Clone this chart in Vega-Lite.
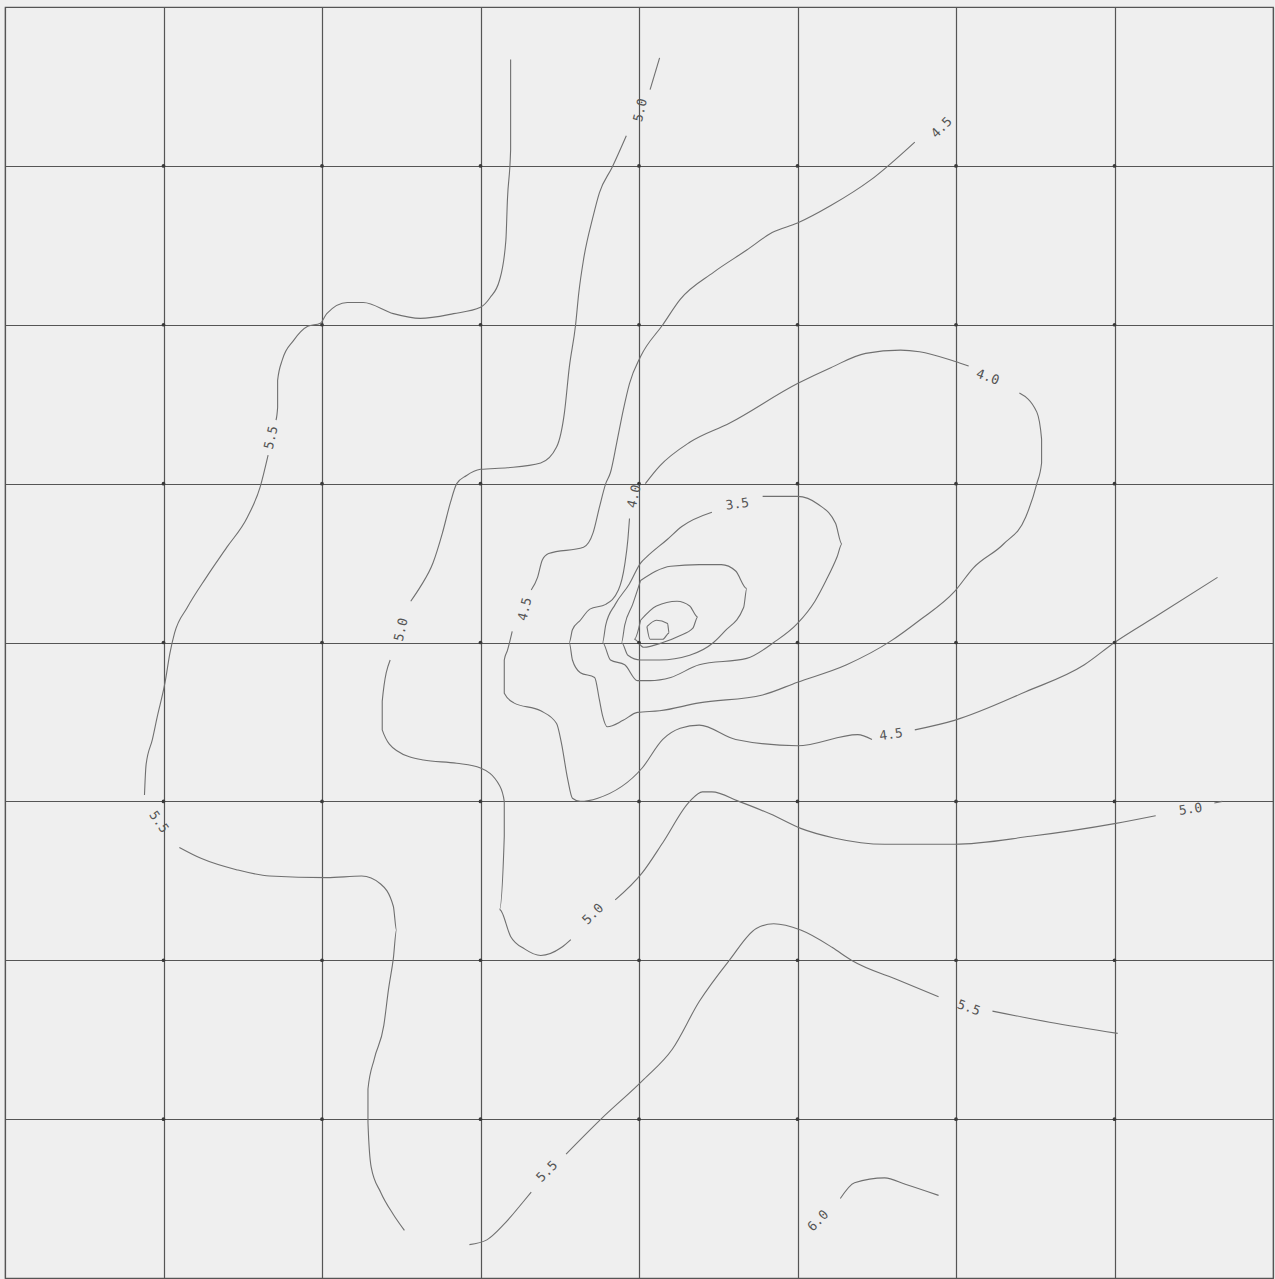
{
  "$schema": "https://vega.github.io/schema/vega-lite/v6.json",
  "width": 1268,
  "height": 1271,
  "autosize": {"type": "none"},
  "padding": {"left": 5, "top": 7, "right": 2, "bottom": 1},
  "background": "#efefef",
  "config": {
    "view": {"stroke": "#5a5a5a", "strokeWidth": 1.2, "fill": "#efefef"},
    "axis": {"labels": false, "ticks": false, "domain": false, "title": null, "grid": true, "gridColor": "#555555", "gridWidth": 1.2, "gridOpacity": 1}
  },
  "datasets": {
    "nodes": [
      {"x":1,"y":1},{"x":2,"y":1},{"x":3,"y":1},{"x":4,"y":1},{"x":5,"y":1},{"x":6,"y":1},{"x":7,"y":1},
      {"x":1,"y":2},{"x":2,"y":2},{"x":3,"y":2},{"x":4,"y":2},{"x":5,"y":2},{"x":6,"y":2},{"x":7,"y":2},
      {"x":1,"y":3},{"x":2,"y":3},{"x":3,"y":3},{"x":4,"y":3},{"x":5,"y":3},{"x":6,"y":3},{"x":7,"y":3},
      {"x":1,"y":4},{"x":2,"y":4},{"x":3,"y":4},{"x":4,"y":4},{"x":5,"y":4},{"x":6,"y":4},{"x":7,"y":4},
      {"x":1,"y":5},{"x":2,"y":5},{"x":3,"y":5},{"x":4,"y":5},{"x":5,"y":5},{"x":6,"y":5},{"x":7,"y":5},
      {"x":1,"y":6},{"x":2,"y":6},{"x":3,"y":6},{"x":4,"y":6},{"x":5,"y":6},{"x":6,"y":6},{"x":7,"y":6},
      {"x":1,"y":7},{"x":2,"y":7},{"x":3,"y":7},{"x":4,"y":7},{"x":5,"y":7},{"x":6,"y":7},{"x":7,"y":7}
    ],
    "contours": [
      {"s":"a1","i":1,"x":3.19,"y":0.33},{"s":"a1","i":2,"x":3.19,"y":0.59},{"s":"a1","i":3,"x":3.19,"y":0.90},{"s":"a1","i":4,"x":3.17,"y":1.21},{"s":"a1","i":5,"x":3.16,"y":1.47},{"s":"a1","i":6,"x":3.12,"y":1.72},{"s":"a1","i":7,"x":3.06,"y":1.83},{"s":"a1","i":8,"x":3.00,"y":1.89},{"s":"a1","i":9,"x":2.83,"y":1.93},{"s":"a1","i":10,"x":2.62,"y":1.96},{"s":"a1","i":11,"x":2.45,"y":1.93},{"s":"a1","i":12,"x":2.26,"y":1.86},{"s":"a1","i":13,"x":2.16,"y":1.86},{"s":"a1","i":14,"x":2.03,"y":1.93},{"s":"a1","i":15,"x":1.99,"y":1.99},{"s":"a1","i":16,"x":1.91,"y":2.01},{"s":"a1","i":17,"x":1.82,"y":2.10},{"s":"a1","i":18,"x":1.75,"y":2.22},{"s":"a1","i":19,"x":1.72,"y":2.35},{"s":"a1","i":20,"x":1.72,"y":2.52},{"s":"a1","i":21,"x":1.71,"y":2.60},
      {"s":"a2","i":1,"x":1.66,"y":2.82},{"s":"a2","i":2,"x":1.61,"y":3.02},{"s":"a2","i":3,"x":1.53,"y":3.21},{"s":"a2","i":4,"x":1.40,"y":3.40},{"s":"a2","i":5,"x":1.27,"y":3.59},{"s":"a2","i":6,"x":1.15,"y":3.78},{"s":"a2","i":7,"x":1.07,"y":3.94},{"s":"a2","i":8,"x":1.04,"y":4.07},{"s":"a2","i":9,"x":1.01,"y":4.25},{"s":"a2","i":10,"x":0.96,"y":4.47},{"s":"a2","i":11,"x":0.93,"y":4.61},{"s":"a2","i":12,"x":0.89,"y":4.77},{"s":"a2","i":13,"x":0.88,"y":4.96},
      {"s":"a3","i":1,"x":1.10,"y":5.29},{"s":"a3","i":2,"x":1.24,"y":5.36},{"s":"a3","i":3,"x":1.46,"y":5.43},{"s":"a3","i":4,"x":1.67,"y":5.47},{"s":"a3","i":5,"x":2.03,"y":5.48},{"s":"a3","i":6,"x":2.25,"y":5.47},{"s":"a3","i":7,"x":2.37,"y":5.52},{"s":"a3","i":8,"x":2.45,"y":5.66},{"s":"a3","i":9,"x":2.47,"y":5.81},{"s":"a3","i":10,"x":2.45,"y":5.99},{"s":"a3","i":11,"x":2.42,"y":6.18},{"s":"a3","i":12,"x":2.39,"y":6.41},{"s":"a3","i":13,"x":2.33,"y":6.62},{"s":"a3","i":14,"x":2.29,"y":6.81},{"s":"a3","i":15,"x":2.29,"y":7.02},{"s":"a3","i":16,"x":2.31,"y":7.30},{"s":"a3","i":17,"x":2.37,"y":7.46},{"s":"a3","i":18,"x":2.45,"y":7.60},{"s":"a3","i":19,"x":2.52,"y":7.70},
      {"s":"b1","i":1,"x":4.13,"y":0.32},{"s":"b1","i":2,"x":4.07,"y":0.52},
      {"s":"b2","i":1,"x":3.92,"y":0.81},{"s":"b2","i":2,"x":3.83,"y":1.01},{"s":"b2","i":3,"x":3.75,"y":1.17},{"s":"b2","i":4,"x":3.71,"y":1.32},{"s":"b2","i":5,"x":3.65,"y":1.59},{"s":"b2","i":6,"x":3.62,"y":1.80},{"s":"b2","i":7,"x":3.60,"y":2.00},{"s":"b2","i":8,"x":3.56,"y":2.27},{"s":"b2","i":9,"x":3.53,"y":2.55},{"s":"b2","i":10,"x":3.48,"y":2.77},{"s":"b2","i":11,"x":3.38,"y":2.87},{"s":"b2","i":12,"x":3.17,"y":2.90},{"s":"b2","i":13,"x":3.00,"y":2.91},{"s":"b2","i":14,"x":2.91,"y":2.95},{"s":"b2","i":15,"x":2.85,"y":3.00},{"s":"b2","i":16,"x":2.81,"y":3.12},{"s":"b2","i":17,"x":2.76,"y":3.31},{"s":"b2","i":18,"x":2.70,"y":3.50},{"s":"b2","i":19,"x":2.62,"y":3.65},{"s":"b2","i":20,"x":2.56,"y":3.74},
      {"s":"b3","i":1,"x":2.43,"y":4.11},{"s":"b3","i":2,"x":2.38,"y":4.37},{"s":"b3","i":3,"x":2.38,"y":4.55},{"s":"b3","i":4,"x":2.47,"y":4.68},{"s":"b3","i":5,"x":2.64,"y":4.74},{"s":"b3","i":6,"x":2.85,"y":4.76},{"s":"b3","i":7,"x":3.00,"y":4.79},{"s":"b3","i":8,"x":3.12,"y":4.90},{"s":"b3","i":9,"x":3.15,"y":5.00},{"s":"b3","i":10,"x":3.15,"y":5.22},{"s":"b3","i":11,"x":3.12,"y":5.68},{"s":"b3","i":12,"x":3.19,"y":5.85},{"s":"b3","i":13,"x":3.28,"y":5.93},{"s":"b3","i":14,"x":3.38,"y":5.97},{"s":"b3","i":15,"x":3.51,"y":5.92},{"s":"b3","i":16,"x":3.57,"y":5.87},
      {"s":"b4","i":1,"x":3.85,"y":5.62},{"s":"b4","i":2,"x":4.02,"y":5.45},{"s":"b4","i":3,"x":4.15,"y":5.26},{"s":"b4","i":4,"x":4.32,"y":5.00},{"s":"b4","i":5,"x":4.40,"y":4.94},{"s":"b4","i":6,"x":4.46,"y":4.94},{"s":"b4","i":7,"x":4.63,"y":5.00},{"s":"b4","i":8,"x":4.83,"y":5.08},{"s":"b4","i":9,"x":5.02,"y":5.17},{"s":"b4","i":10,"x":5.23,"y":5.23},{"s":"b4","i":11,"x":5.55,"y":5.27},{"s":"b4","i":12,"x":5.99,"y":5.27},{"s":"b4","i":13,"x":6.47,"y":5.22},{"s":"b4","i":14,"x":7.00,"y":5.14},{"s":"b4","i":15,"x":7.26,"y":5.09},
      {"s":"b5","i":1,"x":7.63,"y":5.01},{"s":"b5","i":2,"x":7.68,"y":5.00},
      {"s":"c1","i":1,"x":5.74,"y":0.85},{"s":"c1","i":2,"x":5.46,"y":1.09},{"s":"c1","i":3,"x":5.21,"y":1.25},{"s":"c1","i":4,"x":5.00,"y":1.36},{"s":"c1","i":5,"x":4.84,"y":1.42},{"s":"c1","i":6,"x":4.68,"y":1.53},{"s":"c1","i":7,"x":4.47,"y":1.67},{"s":"c1","i":8,"x":4.26,"y":1.84},{"s":"c1","i":9,"x":4.15,"y":2.00},{"s":"c1","i":10,"x":4.01,"y":2.20},{"s":"c1","i":11,"x":3.94,"y":2.37},{"s":"c1","i":12,"x":3.90,"y":2.54},{"s":"c1","i":13,"x":3.86,"y":2.74},{"s":"c1","i":14,"x":3.82,"y":2.93},{"s":"c1","i":15,"x":3.79,"y":3.00},{"s":"c1","i":16,"x":3.75,"y":3.15},{"s":"c1","i":17,"x":3.71,"y":3.31},{"s":"c1","i":18,"x":3.65,"y":3.40},{"s":"c1","i":19,"x":3.43,"y":3.44},{"s":"c1","i":20,"x":3.39,"y":3.48},{"s":"c1","i":21,"x":3.36,"y":3.59},{"s":"c1","i":22,"x":3.32,"y":3.67},
      {"s":"c2","i":1,"x":3.20,"y":3.93},{"s":"c2","i":2,"x":3.17,"y":4.05},{"s":"c2","i":3,"x":3.15,"y":4.11},{"s":"c2","i":4,"x":3.15,"y":4.32},{"s":"c2","i":5,"x":3.21,"y":4.38},{"s":"c2","i":6,"x":3.38,"y":4.43},{"s":"c2","i":7,"x":3.48,"y":4.51},{"s":"c2","i":8,"x":3.51,"y":4.63},{"s":"c2","i":9,"x":3.55,"y":4.86},{"s":"c2","i":10,"x":3.58,"y":4.98},{"s":"c2","i":11,"x":3.63,"y":5.00},{"s":"c2","i":12,"x":3.74,"y":4.98},{"s":"c2","i":13,"x":4.02,"y":4.79},{"s":"c2","i":14,"x":4.15,"y":4.61},{"s":"c2","i":15,"x":4.26,"y":4.54},{"s":"c2","i":16,"x":4.38,"y":4.52},{"s":"c2","i":17,"x":4.61,"y":4.61},{"s":"c2","i":18,"x":5.00,"y":4.65},{"s":"c2","i":19,"x":5.38,"y":4.58},{"s":"c2","i":20,"x":5.47,"y":4.61},
      {"s":"c3","i":1,"x":5.74,"y":4.55},{"s":"c3","i":2,"x":5.99,"y":4.49},{"s":"c3","i":3,"x":6.44,"y":4.31},{"s":"c3","i":4,"x":6.81,"y":4.14},{"s":"c3","i":5,"x":7.00,"y":4.00},{"s":"c3","i":6,"x":7.27,"y":3.83},{"s":"c3","i":7,"x":7.65,"y":3.59},
      {"s":"d1","i":1,"x":4.04,"y":3.00},{"s":"d1","i":2,"x":4.13,"y":2.89},{"s":"d1","i":3,"x":4.32,"y":2.74},{"s":"d1","i":4,"x":4.57,"y":2.62},{"s":"d1","i":5,"x":5.00,"y":2.37},{"s":"d1","i":6,"x":5.21,"y":2.27},{"s":"d1","i":7,"x":5.43,"y":2.18},{"s":"d1","i":8,"x":5.65,"y":2.16},{"s":"d1","i":9,"x":5.77,"y":2.17},{"s":"d1","i":10,"x":5.99,"y":2.23},{"s":"d1","i":11,"x":6.08,"y":2.26},
      {"s":"d2","i":1,"x":6.40,"y":2.43},{"s":"d2","i":2,"x":6.51,"y":2.55},{"s":"d2","i":3,"x":6.54,"y":2.72},{"s":"d2","i":4,"x":6.54,"y":2.87},{"s":"d2","i":5,"x":6.51,"y":3.00},{"s":"d2","i":6,"x":6.44,"y":3.21},{"s":"d2","i":7,"x":6.30,"y":3.38},{"s":"d2","i":8,"x":6.11,"y":3.53},{"s":"d2","i":9,"x":5.99,"y":3.68},{"s":"d2","i":10,"x":5.77,"y":3.86},{"s":"d2","i":11,"x":5.59,"y":3.99},{"s":"d2","i":12,"x":5.31,"y":4.14},{"s":"d2","i":13,"x":5.00,"y":4.25},{"s":"d2","i":14,"x":4.78,"y":4.33},{"s":"d2","i":15,"x":4.38,"y":4.38},{"s":"d2","i":16,"x":4.13,"y":4.43},{"s":"d2","i":17,"x":3.99,"y":4.44},{"s":"d2","i":18,"x":3.90,"y":4.49},{"s":"d2","i":19,"x":3.80,"y":4.53},{"s":"d2","i":20,"x":3.77,"y":4.46},{"s":"d2","i":21,"x":3.75,"y":4.36},{"s":"d2","i":22,"x":3.72,"y":4.22},{"s":"d2","i":23,"x":3.63,"y":4.19},{"s":"d2","i":24,"x":3.58,"y":4.11},{"s":"d2","i":25,"x":3.56,"y":4.00},{"s":"d2","i":26,"x":3.58,"y":3.92},{"s":"d2","i":27,"x":3.63,"y":3.86},{"s":"d2","i":28,"x":3.69,"y":3.79},{"s":"d2","i":29,"x":3.79,"y":3.76},{"s":"d2","i":30,"x":3.87,"y":3.67},{"s":"d2","i":31,"x":3.91,"y":3.51},{"s":"d2","i":32,"x":3.93,"y":3.35},{"s":"d2","i":33,"x":3.94,"y":3.22},
      {"s":"e1","i":1,"x":4.78,"y":3.08},{"s":"e1","i":2,"x":5.00,"y":3.08},{"s":"e1","i":3,"x":5.13,"y":3.13},{"s":"e1","i":4,"x":5.24,"y":3.25},{"s":"e1","i":5,"x":5.28,"y":3.38},{"s":"e1","i":6,"x":5.25,"y":3.46},{"s":"e1","i":7,"x":5.18,"y":3.61},{"s":"e1","i":8,"x":5.11,"y":3.74},{"s":"e1","i":9,"x":5.00,"y":3.88},{"s":"e1","i":10,"x":4.85,"y":4.00},{"s":"e1","i":11,"x":4.68,"y":4.10},{"s":"e1","i":12,"x":4.38,"y":4.14},{"s":"e1","i":13,"x":4.20,"y":4.22},{"s":"e1","i":14,"x":4.07,"y":4.24},{"s":"e1","i":15,"x":3.99,"y":4.24},{"s":"e1","i":16,"x":3.91,"y":4.14},{"s":"e1","i":17,"x":3.82,"y":4.11},{"s":"e1","i":18,"x":3.77,"y":4.00},{"s":"e1","i":19,"x":3.79,"y":3.89},{"s":"e1","i":20,"x":3.85,"y":3.76},{"s":"e1","i":21,"x":3.94,"y":3.63},{"s":"e1","i":22,"x":4.01,"y":3.50},{"s":"e1","i":23,"x":4.05,"y":3.46},{"s":"e1","i":24,"x":4.18,"y":3.35},{"s":"e1","i":25,"x":4.27,"y":3.27},{"s":"e1","i":26,"x":4.46,"y":3.18},
      {"s":"f","i":1,"x":4.01,"y":3.61},{"s":"f","i":2,"x":4.20,"y":3.52},{"s":"f","i":3,"x":4.38,"y":3.51},{"s":"f","i":4,"x":4.52,"y":3.51},{"s":"f","i":5,"x":4.61,"y":3.55},{"s":"f","i":6,"x":4.68,"y":3.66},{"s":"f","i":7,"x":4.66,"y":3.78},{"s":"f","i":8,"x":4.54,"y":3.93},{"s":"f","i":9,"x":4.47,"y":4.00},{"s":"f","i":10,"x":4.32,"y":4.08},{"s":"f","i":11,"x":4.13,"y":4.11},{"s":"f","i":12,"x":4.01,"y":4.11},{"s":"f","i":13,"x":3.93,"y":4.08},{"s":"f","i":14,"x":3.89,"y":4.00},{"s":"f","i":15,"x":3.91,"y":3.89},{"s":"f","i":16,"x":3.96,"y":3.76},{"s":"f","i":17,"x":4.01,"y":3.61},
      {"s":"g","i":1,"x":4.01,"y":3.86},{"s":"g","i":2,"x":4.11,"y":3.77},{"s":"g","i":3,"x":4.24,"y":3.74},{"s":"g","i":4,"x":4.32,"y":3.77},{"s":"g","i":5,"x":4.37,"y":3.84},{"s":"g","i":6,"x":4.34,"y":3.91},{"s":"g","i":7,"x":4.25,"y":3.96},{"s":"g","i":8,"x":4.15,"y":4.00},{"s":"g","i":9,"x":4.03,"y":4.03},{"s":"g","i":10,"x":3.97,"y":3.98},{"s":"g","i":11,"x":4.01,"y":3.86},
      {"s":"h","i":1,"x":4.05,"y":3.90},{"s":"h","i":2,"x":4.11,"y":3.86},{"s":"h","i":3,"x":4.18,"y":3.88},{"s":"h","i":4,"x":4.19,"y":3.94},{"s":"h","i":5,"x":4.15,"y":3.98},{"s":"h","i":6,"x":4.07,"y":3.98},{"s":"h","i":7,"x":4.05,"y":3.90},
      {"s":"i1","i":1,"x":2.93,"y":7.79},{"s":"i1","i":2,"x":3.04,"y":7.76},{"s":"i1","i":3,"x":3.15,"y":7.66},{"s":"i1","i":4,"x":3.27,"y":7.52},{"s":"i1","i":5,"x":3.32,"y":7.46},
      {"s":"i2","i":1,"x":3.54,"y":7.22},{"s":"i2","i":2,"x":3.76,"y":7.00},{"s":"i2","i":3,"x":4.03,"y":6.75},{"s":"i2","i":4,"x":4.21,"y":6.56},{"s":"i2","i":5,"x":4.38,"y":6.26},{"s":"i2","i":6,"x":4.57,"y":6.00},{"s":"i2","i":7,"x":4.74,"y":5.80},{"s":"i2","i":8,"x":4.85,"y":5.77},{"s":"i2","i":9,"x":5.02,"y":5.81},{"s":"i2","i":10,"x":5.22,"y":5.92},{"s":"i2","i":11,"x":5.34,"y":6.00},{"s":"i2","i":12,"x":5.65,"y":6.13},{"s":"i2","i":13,"x":5.89,"y":6.23},
      {"s":"i3","i":1,"x":6.23,"y":6.32},{"s":"i3","i":2,"x":6.59,"y":6.39},{"s":"i3","i":3,"x":7.02,"y":6.46},
      {"s":"j","i":1,"x":5.27,"y":7.50},{"s":"j","i":2,"x":5.36,"y":7.40},{"s":"j","i":3,"x":5.55,"y":7.37},{"s":"j","i":4,"x":5.68,"y":7.41},{"s":"j","i":5,"x":5.89,"y":7.48}
    ]
  },
  "encoding": {
    "x": {"type": "quantitative", "scale": {"domain": [0, 8], "nice": false, "zero": false}, "axis": {"values": [0,1,2,3,4,5,6,7,8]}},
    "y": {"type": "quantitative", "scale": {"domain": [0, 8], "nice": false, "zero": false, "reverse": true}, "axis": {"values": [0,1,2,3,4,5,6,7,8]}}
  },
  "layer": [
    {
      "data": {"name": "contours"},
      "mark": {"type": "line", "interpolate": "monotone", "stroke": "#707070", "strokeWidth": 1.1},
      "encoding": {
        "x": {"field": "x", "type": "quantitative"},
        "y": {"field": "y", "type": "quantitative"},
        "detail": {"field": "s"},
        "order": {"field": "i", "type": "quantitative"}
      }
    },
    {
      "data": {"name": "nodes"},
      "mark": {"type": "point", "shape": "circle", "filled": true, "size": 14, "color": "#3a3a3a", "opacity": 1},
      "encoding": {"x": {"field": "x", "type": "quantitative"}, "y": {"field": "y", "type": "quantitative"}}
    },
    {
      "data": {"values": [{"t":"5.5","x":1.68,"y":2.71},{"t":"4.0","x":3.97,"y":3.08},{"t":"4.5","x":3.28,"y":3.79},{"t":"5.0","x":2.50,"y":3.92},{"t":"5.0","x":4.01,"y":0.65}]},
      "mark": {"type": "text", "angle": 283, "font": "DejaVu Sans Mono", "fontSize": 13, "fill": "#555555", "align": "center", "baseline": "middle"},
      "encoding": {"x": {"field": "x", "type": "quantitative"}, "y": {"field": "y", "type": "quantitative"}, "text": {"field": "t"}}
    },
    {
      "data": {"values": [{"t":"4.5","x":5.91,"y":0.76},{"t":"5.0","x":3.71,"y":5.71},{"t":"5.5","x":3.42,"y":7.33},{"t":"6.0","x":5.13,"y":7.64}]},
      "mark": {"type": "text", "angle": 315, "font": "DejaVu Sans Mono", "fontSize": 13, "fill": "#555555", "align": "center", "baseline": "middle"},
      "encoding": {"x": {"field": "x", "type": "quantitative"}, "y": {"field": "y", "type": "quantitative"}, "text": {"field": "t"}}
    },
    {
      "data": {"values": [{"t":"3.5","x":4.62,"y":3.13},{"t":"4.5","x":5.59,"y":4.58},{"t":"5.0","x":7.48,"y":5.05}]},
      "mark": {"type": "text", "angle": 352, "font": "DejaVu Sans Mono", "fontSize": 13, "fill": "#555555", "align": "center", "baseline": "middle"},
      "encoding": {"x": {"field": "x", "type": "quantitative"}, "y": {"field": "y", "type": "quantitative"}, "text": {"field": "t"}}
    },
    {
      "data": {"values": [{"t":"4.0","x":6.20,"y":2.33},{"t":"5.5","x":6.08,"y":6.30}]},
      "mark": {"type": "text", "angle": 20, "font": "DejaVu Sans Mono", "fontSize": 13, "fill": "#555555", "align": "center", "baseline": "middle"},
      "encoding": {"x": {"field": "x", "type": "quantitative"}, "y": {"field": "y", "type": "quantitative"}, "text": {"field": "t"}}
    },
    {
      "data": {"values": [{"t":"5.5","x":0.97,"y":5.13}]},
      "mark": {"type": "text", "angle": 55, "font": "DejaVu Sans Mono", "fontSize": 13, "fill": "#555555", "align": "center", "baseline": "middle"},
      "encoding": {"x": {"field": "x", "type": "quantitative"}, "y": {"field": "y", "type": "quantitative"}, "text": {"field": "t"}}
    }
  ]
}
